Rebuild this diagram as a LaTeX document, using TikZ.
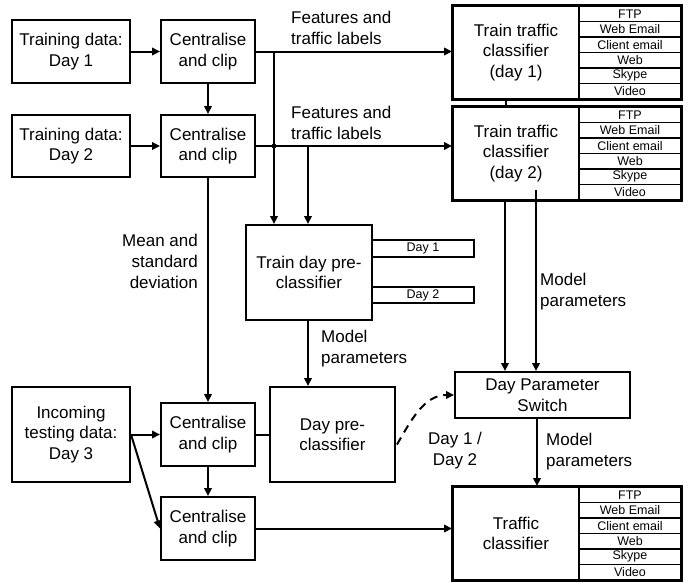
\documentclass[tikz,border=0pt]{standalone}
\usepackage{fontspec}
\setmainfont{Liberation Sans}
\usetikzlibrary{arrows.meta,calc}
\begin{document}
\begin{tikzpicture}[x=1pt,y=-1pt,
  box/.style={draw, line width=2pt, align=center, inner sep=0pt, font=\fontsize{17}{20.5}\selectfont},
  tab/.style={draw, line width=1.3pt, inner sep=0pt, minimum width=102pt, minimum height=15.5pt, font=\fontsize{12.5}{12.5}\selectfont},
  daytab/.style={draw, line width=2pt, inner sep=0pt, minimum width=102pt, minimum height=16.5pt, font=\fontsize{12.5}{12.5}\selectfont},
  lbl/.style={font=\fontsize{17}{21}\selectfont, inner sep=0pt},
  conn/.style={line width=2pt},
  arr/.style={conn, -{Triangle[length=8pt,width=7.5pt]}}]
\useasboundingbox (0,0) rectangle (688,582);
% left column
\node[box, minimum width=118pt, minimum height=63pt] (d1) at (71,51.5) {Training data:\\Day 1};
\node[box, minimum width=94pt, minimum height=63pt] (c1) at (208,51.5) {Centralise\\and clip};
\node[box, minimum width=118pt, minimum height=62pt] (d2) at (71,146) {Training data:\\Day 2};
\node[box, minimum width=94pt, minimum height=62pt] (c2) at (208,146) {Centralise\\and clip};
\node[box, minimum width=118pt, minimum height=95pt] (inc) at (71,434.5) {Incoming\\testing data:\\Day 3};
\node[box, minimum width=94pt, minimum height=63pt] (c3) at (208,434.5) {Centralise\\and clip};
\node[box, minimum width=94pt, minimum height=63pt] (c4) at (208,528.5) {Centralise\\and clip};
% pre-classifiers
\node[box, minimum width=126pt, minimum height=95pt] (tp) at (309,272.5) {Train day pre-\\classifier};
\node[daytab] (tpd1) at (423,248.5) {Day 1};
\node[daytab] (tpd2) at (423,295) {Day 2};
\node[box, minimum width=125pt, minimum height=95pt] (dp) at (332.5,434.5) {Day pre-\\classifier};
% classifiers
\node[box, minimum width=126pt, minimum height=93pt] (tc1) at (516,52.5) {Train traffic\\classifier\\(day 1)};
\node[box, minimum width=126pt, minimum height=93pt] (tc2) at (516,153.5) {Train traffic\\classifier\\(day 2)};
\node[box, minimum width=126pt, minimum height=93pt] (tc) at (516,533.5) {Traffic\\classifier};
\foreach \t [count=\i from 0] in {FTP,Web Email,Client email,Web,Skype,Video}{
  \node[tab] (tc1r\i) at (630,13.75+15.5*\i) {\t};
  \node[tab] (tc2r\i) at (630,114.75+15.5*\i) {\t};
  \node[tab] (tcr\i) at (630,494.75+15.5*\i) {\t};
}
\draw[conn] (tc1.north west) rectangle (tc1r5.south east);
\draw[conn] (tc2.north west) rectangle (tc2r5.south east);
\draw[conn] (tc.north west) rectangle (tcr5.south east);
\node[box, minimum width=175pt, minimum height=46pt] (sw) at (542.5,395) {Day Parameter\\Switch};
% labels
\node[lbl, anchor=west, align=left] (f1) at (291,27.5) {Features and\\traffic labels};
\node[lbl, anchor=west, align=left] (f2) at (291,122.5) {Features and\\traffic labels};
\node[lbl, anchor=east, align=right] (ms) at (198,261) {Mean and\\standard\\deviation};
\node[lbl, anchor=west, align=left] (mp1) at (321,349) {Model\\parameters};
\node[lbl, anchor=west, align=left] (mp2) at (540,292) {Model\\parameters};
\node[lbl, anchor=west, align=left] (mp3) at (546,452) {Model\\parameters};
\node[lbl, align=center] (dd) at (455,451) {Day 1 /\\Day 2};
% coordinates
\coordinate (j1) at (274,51.5);
\coordinate (j2) at (274,146);
\coordinate (j3) at (308,146);
\coordinate (p1) at (505,200);
\coordinate (p2) at (536,190);
\coordinate (q1) at (537,0);
\coordinate (r1) at (506,0);
% connectors
\draw[arr] (d1) -- (c1);
\draw[arr] (d2) -- (c2);
\draw[arr] (c1) -- (c2);
\draw[arr] (c1.east) -- (c1.east -| tc1.west);
\draw[arr] (c2.east) -- (c2.east -| tc2.west);
\draw[arr] (j1) -- (j1 |- tp.north);
\draw[arr] (j3) -- (j3 |- tp.north);
\fill (j2) circle (2.4pt);
\draw[conn] (r1 |- tc1.south) -- (r1 |- tc2.north);
\draw[arr] (p1) -- (p1 |- sw.north);
\draw[arr] (p2) -- (p2 |- sw.north);
\draw[arr] (j3 |- tp.south) -- (j3 |- dp.north);
\draw[arr] (c2) -- (c3);
\draw[arr] (inc.east) -- (c3.west);
\draw[conn] (c3.east) -- (dp.west);
\draw[arr] (c3) -- (c4);
\draw[arr] (inc.east) -- (c4.west);
\draw[arr] (c4.east) -- (c4.east -| tc.west);
\draw[arr] (q1 |- sw.south) -- (q1 |- tc.north);
\draw[arr, dash pattern=on 8pt off 6pt] ($(dp.east)+(1,10)$) to[out=60,in=180] (sw.west);
\end{tikzpicture}
\end{document}
